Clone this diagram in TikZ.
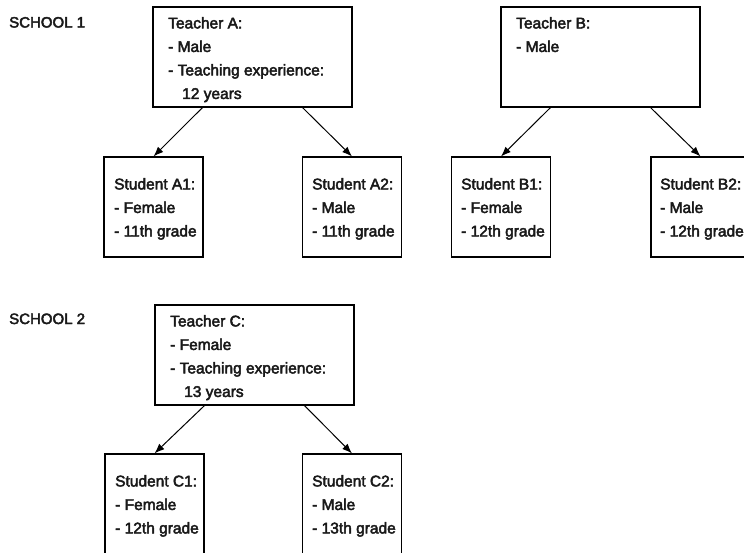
\documentclass[tikz,border=0pt]{standalone}
\usepackage{fontspec}
\setmainfont{Liberation Sans}
\usetikzlibrary{arrows.meta}
\newcommand{\heavytext}{\special{pdf:literal direct 2 Tr 0.45 w}}
\begin{document}
\begin{tikzpicture}[x=1pt,y=-1pt,
  tbox/.style={draw, line width=1.1pt, minimum width=199pt, minimum height=100pt, inner sep=0pt},
  sbox/.style={draw, line width=1.1pt, minimum width=99pt, minimum height=100pt, inner sep=0pt},
  txt/.style={anchor=north west, inner sep=0pt, align=left, font=\fontsize{15.5}{23.5}\selectfont\heavytext, text=black!90},
  school/.style={anchor=base west, inner sep=0pt, font=\fontsize{15}{17}\selectfont\heavytext, text=black!90},
  arr/.style={-{Latex[length=10pt,width=7.5pt]}, line width=1pt}]
\useasboundingbox (0,0) rectangle (744,552);
% labels
\node[school] (s1) at (9,27.5) {SCHOOL 1};
\node[school] (s2) at (9,324) {SCHOOL 2};
% teachers
\node[tbox] (ta) at (252.5,57) {};
\node[tbox] (tb) at (600.5,57) {};
\node[tbox] (tc) at (254.5,355) {};
\node[txt] (tat) at (168,17) {Teacher A:\\- Male\\- Teaching experience:\\\hspace*{14pt}12 years};
\node[txt] (tbt) at (516,17) {Teacher B:\\- Male};
\node[txt] (tct) at (170,315) {Teacher C:\\- Female\\- Teaching experience:\\\hspace*{14pt}13 years};
% students
\node[sbox] (a1) at (153.5,207) {};
\node[sbox] (a2) at (352,207) {};
\node[sbox] (b1) at (501,207) {};
\node[sbox] (b2) at (700.5,207) {};
\node[sbox] (c1) at (154.5,504) {};
\node[sbox] (c2) at (352,504) {};
\node[txt] (a1t) at (114,178) {Student A1:\\- Female\\- 11th grade};
\node[txt] (a2t) at (312,178) {Student A2:\\- Male\\- 11th grade};
\node[txt] (b1t) at (461,178) {Student B1:\\- Female\\- 12th grade};
\node[txt] (b2t) at (660,178) {Student B2:\\- Male\\- 12th grade};
\node[txt] (c1t) at (115,475) {Student C1:\\- Female\\- 12th grade};
\node[txt] (c2t) at (312,475) {Student C2:\\- Male\\- 13th grade};
% arrows
\draw[arr] ([xshift=-50pt]ta.south) -- (a1.north);
\draw[arr] ([xshift=50pt]ta.south) -- (a2.north);
\draw[arr] ([xshift=-50pt]tb.south) -- (b1.north);
\draw[arr] ([xshift=50pt]tb.south) -- (b2.north);
\draw[arr] ([xshift=-50pt]tc.south) -- (c1.north);
\draw[arr] ([xshift=50pt]tc.south) -- (c2.north);
\end{tikzpicture}
\end{document}
